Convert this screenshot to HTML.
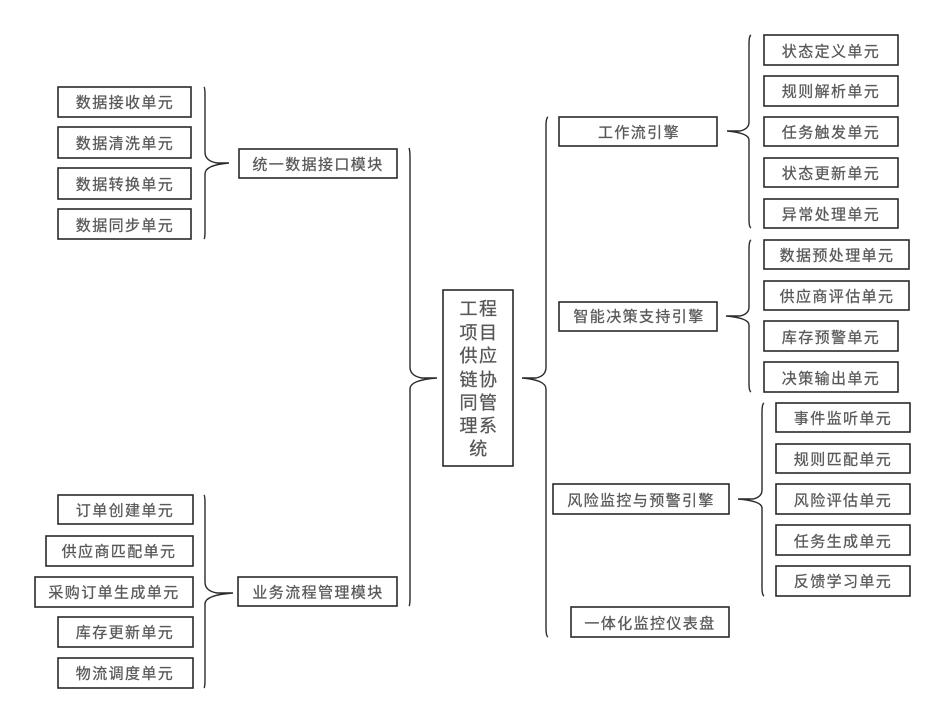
<!DOCTYPE html>
<html lang="zh-CN">
<head>
<meta charset="utf-8">
<title>工程项目供应链协同管理系统</title>
<style>
html,body{margin:0;padding:0;background:#fff;width:928px;height:716px;overflow:hidden}
svg{display:block}
rect{fill:#fff;stroke:#2a2a2a;stroke-width:1.6}
path{fill:none;stroke:#2a2a2a;stroke-width:1.4}
text{font-family:"Liberation Sans","Noto Sans CJK SC",sans-serif;font-size:15px;letter-spacing:1.4px;fill:#555;stroke:#666;stroke-width:.3;text-anchor:middle;dominant-baseline:central}
text.c{font-size:18px;letter-spacing:1.5px}
</style>
</head>
<body>
<svg width="928" height="716" viewBox="0 0 928 716" xmlns="http://www.w3.org/2000/svg">
<!-- braces -->
<path d="M204 87Q205 88 205 95V152Q205 161 217 163H229Q205 165 205 174V232Q205 238 204 239"/>
<path d="M204 495Q205 496 205 503V582Q205 591 217 593H233Q205 595 205 604V680Q205 687 204 688"/>
<path d="M409 148Q410 150 410 158V367Q410 376 422 378H437Q410 380 410 389V598Q410 605 409 606"/>
<path d="M548 117Q546 118 546 126V367Q546 376 536 378H522Q546 380 546 389V628Q546 636 548 637"/>
<path d="M751 35Q749 36 749 44V122Q749 129 740 131H727Q749 133 749 140V220Q749 227 751 228"/>
<path d="M751 240Q749 241 749 249V307Q749 314 740 316H726Q749 318 749 325V384Q749 391 751 392"/>
<path d="M764 403Q762 404 762 412V490Q762 497 753 499H738Q762 501 762 508V588Q762 595 764 596"/>

<!-- left top -->
<rect x="58" y="87" width="133" height="30"/><text x="125" y="103">数据接收单元</text>
<rect x="58" y="127" width="133" height="31"/><text x="125" y="144">数据清洗单元</text>
<rect x="58" y="168" width="133" height="31"/><text x="125" y="185">数据转换单元</text>
<rect x="58" y="209" width="133" height="30"/><text x="125" y="226">数据同步单元</text>
<rect x="239" y="149" width="158" height="29"/><text x="318" y="165">统一数据接口模块</text>

<!-- left bottom -->
<rect x="58" y="495" width="135" height="29"/><text x="125" y="511">订单创建单元</text>
<rect x="46" y="536" width="147" height="30"/><text x="119" y="552">供应商匹配单元</text>
<rect x="35" y="577" width="158" height="30"/><text x="114" y="593">采购订单生成单元</text>
<rect x="58" y="617" width="135" height="30"/><text x="125" y="633">库存更新单元</text>
<rect x="58" y="658" width="135" height="30"/><text x="125" y="674">物流调度单元</text>
<rect x="238" y="577" width="159" height="29"/><text x="318" y="593">业务流程管理模块</text>

<!-- centre -->
<rect x="443" y="290" width="70" height="176"/>
<text class="c" x="479" y="309">工程</text>
<text class="c" x="479" y="333">项目</text>
<text class="c" x="479" y="356">供应</text>
<text class="c" x="479" y="380">链协</text>
<text class="c" x="479" y="403">同管</text>
<text class="c" x="479" y="426">理系</text>
<text class="c" x="479" y="449">统</text>

<!-- engines -->
<rect x="559" y="117" width="158" height="29"/><text x="639" y="133">工作流引擎</text>
<rect x="559" y="302" width="158" height="29"/><text x="639" y="317">智能决策支持引擎</text>
<rect x="553" y="484" width="176" height="30"/><text x="641" y="501">风险监控与预警引擎</text>
<rect x="571" y="607" width="158" height="30"/><text x="650" y="624">一体化监控仪表盘</text>

<!-- right group 1 -->
<rect x="764" y="35" width="134" height="30"/><text x="831" y="52">状态定义单元</text>
<rect x="764" y="76" width="134" height="30"/><text x="831" y="92">规则解析单元</text>
<rect x="764" y="117" width="134" height="29"/><text x="831" y="133">任务触发单元</text>
<rect x="764" y="158" width="134" height="29"/><text x="831" y="174">状态更新单元</text>
<rect x="764" y="199" width="134" height="29"/><text x="831" y="215">异常处理单元</text>

<!-- right group 2 -->
<rect x="764" y="240" width="145" height="29"/><text x="837" y="256">数据预处理单元</text>
<rect x="764" y="281" width="145" height="29"/><text x="837" y="297">供应商评估单元</text>
<rect x="764" y="321" width="134" height="30"/><text x="831" y="338">库存预警单元</text>
<rect x="764" y="362" width="134" height="30"/><text x="831" y="379">决策输出单元</text>

<!-- right group 3 -->
<rect x="776" y="403" width="134" height="29"/><text x="843" y="419">事件监听单元</text>
<rect x="776" y="444" width="134" height="29"/><text x="843" y="460">规则匹配单元</text>
<rect x="776" y="484" width="134" height="30"/><text x="843" y="501">风险评估单元</text>
<rect x="776" y="525" width="134" height="30"/><text x="843" y="542">任务生成单元</text>
<rect x="776" y="566" width="134" height="30"/><text x="843" y="582">反馈学习单元</text>
</svg>
</body>
</html>
